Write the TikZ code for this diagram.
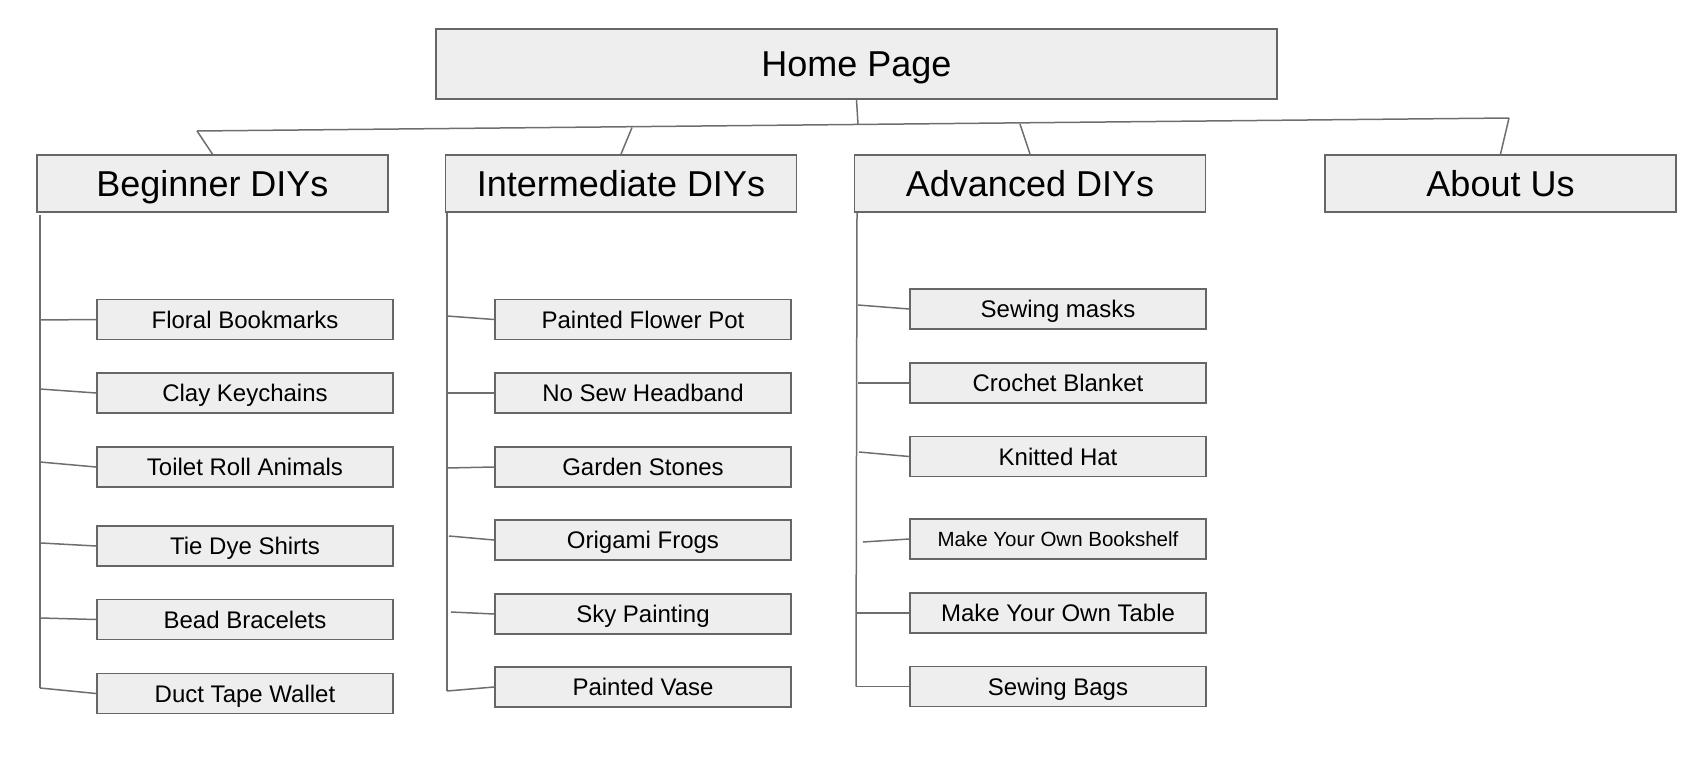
\documentclass[tikz,border=0pt]{standalone}
\usepackage{fontspec}
\setmainfont{Liberation Sans}
\definecolor{boxfill}{HTML}{EEEEEE}
\definecolor{boxgray}{HTML}{666666}
\definecolor{linegray}{HTML}{6E6E6E}
\begin{document}
\begin{tikzpicture}[x=1pt,y=-1pt,
  box/.style={draw=boxgray, fill=boxfill, line width=1.8pt, inner sep=0pt, text=black, text depth=0pt},
  head/.style={box, minimum width=351pt, minimum height=57pt, font=\fontsize{36}{40}\selectfont, text height=25.8pt},
  leaf/.style={box, minimum width=296pt, minimum height=40pt, font=\fontsize{24}{28}\selectfont, text height=17.2pt},
  link/.style={draw=linegray, line width=1.5pt}]
\useasboundingbox (0,0) rectangle (1704,776);
% top level
\node[box, minimum width=841pt, minimum height=70pt, font=\fontsize{36}{40}\selectfont, text height=25.8pt] (home) at (856.5,64) {Home Page};
\node[head] (beg) at (212.5,183.5) {Beginner DIYs};
\node[head] (int) at (621,183.5) {Intermediate DIYs};
\node[head] (adv) at (1030,183.5) {Advanced DIYs};
\node[head] (abt) at (1500.5,183.5) {About Us};
% bus
\coordinate (hb) at (858,124);
\coordinate (busL) at (197,131);
\coordinate (busI) at (632,127.5);
\coordinate (busA) at (1020,124);
\coordinate (busR) at (1509,118);
\draw[link] (home.south) -- (hb);
\draw[link] (busL) -- (busR);
\draw[link] (busL) -- (beg.north);
\draw[link] (busI) -- (int.north);
\draw[link] (busA) -- (adv.north);
\draw[link] (busR) -- (abt.north);
% beginner
\node[leaf] (b1) at (245,319.5) {Floral Bookmarks};
\node[leaf] (b2) at (245,393) {Clay Keychains};
\node[leaf] (b3) at (245,467) {Toilet Roll Animals};
\node[leaf] (b4) at (245,546) {Tie Dye Shirts};
\node[leaf] (b5) at (245,619.5) {Bead Bracelets};
\node[leaf] (b6) at (245,693.5) {Duct Tape Wallet};
\coordinate (bs0) at (40,215);
\coordinate (bs6) at (40,688);
\coordinate (bl1) at (40,320);
\coordinate (bl2) at (40,389);
\coordinate (bl3) at (40,462);
\coordinate (bl4) at (41,543);
\coordinate (bl5) at (40,618);
\draw[link] (bs0) -- (bs6);
\draw[link] (bl1) -- (b1.west);
\draw[link] (bl2) -- (b2.west);
\draw[link] (bl3) -- (b3.west);
\draw[link] (bl4) -- (b4.west);
\draw[link] (bl5) -- (b5.west);
\draw[link] (bs6) -- (b6.west);
% intermediate
\node[leaf] (i1) at (643,319.5) {Painted Flower Pot};
\node[leaf] (i2) at (643,393) {No Sew Headband};
\node[leaf] (i3) at (643,467) {Garden Stones};
\node[leaf] (i4) at (643,540) {Origami Frogs};
\node[leaf] (i5) at (643,614) {Sky Painting};
\node[leaf] (i6) at (643,687) {Painted Vase};
\coordinate (is0) at (447,213);
\coordinate (is6) at (447,691);
\coordinate (il1) at (447,316);
\coordinate (il2) at (447,393);
\coordinate (il3) at (447,468);
\coordinate (il4) at (449,536);
\coordinate (il5) at (451,612);
\draw[link] (is0) -- (is6);
\draw[link] (il1) -- (i1.west);
\draw[link] (il2) -- (i2.west);
\draw[link] (il3) -- (i3.west);
\draw[link] (il4) -- (i4.west);
\draw[link] (il5) -- (i5.west);
\draw[link] (is6) -- (i6.west);
% advanced
\node[leaf] (a1) at (1058,309) {Sewing masks};
\node[leaf] (a2) at (1058,383) {Crochet Blanket};
\node[leaf] (a3) at (1058,456.5) {Knitted Hat};
\node[leaf, font=\fontsize{20.5}{24}\selectfont, text height=14.7pt] (a4) at (1058,539) {Make Your Own Bookshelf};
\node[leaf] (a5) at (1058,613) {Make Your Own Table};
\node[leaf] (a6) at (1058,686.5) {Sewing Bags};
\coordinate (as0) at (857,213);
\coordinate (as6) at (856,686.5);
\coordinate (al1) at (858,305);
\coordinate (al2) at (858,383);
\coordinate (al3) at (859,452);
\coordinate (al4) at (863,542);
\coordinate (al5) at (856,613);
\draw[link] (as0) -- (as6);
\draw[link] (al1) -- (a1.west);
\draw[link] (al2) -- (a2.west);
\draw[link] (al3) -- (a3.west);
\draw[link] (al4) -- (a4.west);
\draw[link] (al5) -- (a5.west);
\draw[link] (as6) -- (a6.west);
\end{tikzpicture}
\end{document}
